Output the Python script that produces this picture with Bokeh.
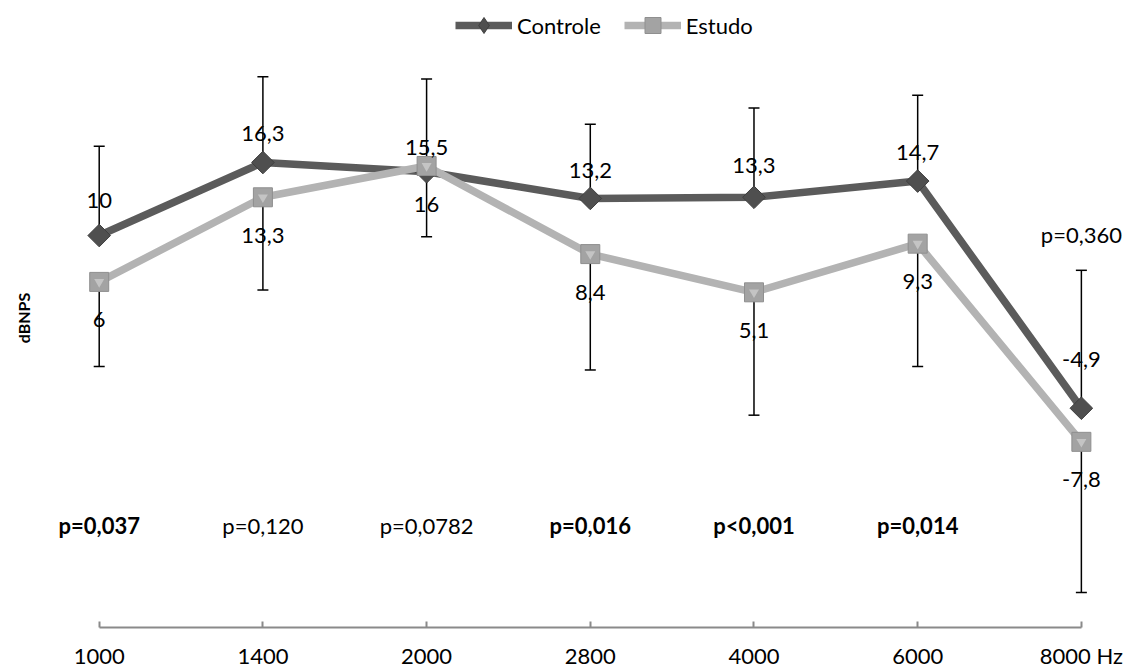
import numpy as np
from bokeh.plotting import figure
from bokeh.models import (ColumnDataSource, Range1d, FixedTicker, Whisker, TeeHead,
                          Legend, LegendItem)
from bokeh.core.properties import value
from bokeh.embed import file_html
from bokeh.resources import INLINE

# ---------------- data ----------------
freq_labels = ["1000", "1400", "2000", "2800", "4000", "6000", "8000 Hz"]
controle = [10, 16.3, 15.5, 13.2, 13.3, 14.7, -4.9]
estudo = [6, 13.3, 16, 8.4, 5.1, 9.3, -7.8]
controle_sd = [7.7, 7.4, 8.0, 6.4, 7.7, 7.4, 11.9]
estudo_sd = [7.3, 8.0, 6.1, 10.0, 10.6, 10.6, 13.0]
controle_txt = ["10", "16,3", "15,5", "13,2", "13,3", "14,7", "-4,9"]
estudo_txt = ["6", "13,3", "16", "8,4", "5,1", "9,3", "-7,8"]
p_values = ["p=0,037", "p=0,120", "p=0,0782", "p=0,016", "p<0,001", "p=0,014", "p=0,360"]
p_style = ["bold", "normal", "normal", "bold", "bold", "bold", "normal"]

# ---------------- layout constants (not data) ----------------
p_y = [-15.0] * 6 + [10.1]           # vertical placement of p-value texts
ctrl_dy = [35, 29.5, 24.5, 27.5, 32, 29, 49]   # label offsets above Controle points (px)
est_dy = 38                           # label offset below Estudo points (px)

FONT = "Lato"
x = list(range(len(freq_labels)))

p = figure(frame_width=1129, frame_height=627, output_backend="svg",
           toolbar_location=None, x_range=Range1d(-0.603, 6.294),
           y_range=Range1d(-23.82, 30.28),
           min_border_left=0, min_border_right=0, min_border_top=0, min_border_bottom=0)
p.outline_line_color = None
p.grid.visible = False
p.yaxis.visible = False
p.background_fill_color = "white"
p.border_fill_color = "white"

ax = p.xaxis[0]
ax.ticker = FixedTicker(ticks=x)
ax.major_label_overrides = {i: lab for i, lab in zip(x, freq_labels)}
ax.bounds = (0, len(x) - 1)
ax.axis_line_color = "#8a8a8a"
ax.axis_line_width = 2
ax.major_tick_line_color = "#8a8a8a"
ax.major_tick_line_width = 2
ax.major_tick_in = 6
ax.major_tick_out = 0
ax.minor_tick_line_color = None
ax.major_label_standoff = 14
ax.major_label_text_font = FONT
ax.major_label_text_font_size = "22px"
ax.major_label_text_color = "black"

src = ColumnDataSource(dict(
    x=x, ctrl=controle, est=estudo,
    ctrl_up=[v + s for v, s in zip(controle, controle_sd)],
    est_lo=[v - s for v, s in zip(estudo, estudo_sd)],
    ctrl_txt=controle_txt, est_txt=estudo_txt,
    ctrl_off=[-d for d in ctrl_dy],
))

# error bars
w1 = Whisker(source=src, base="x", lower="ctrl", upper="ctrl_up",
             line_color="black", line_width=1.5,
             upper_head=TeeHead(size=11, line_color="black", line_width=1.5),
             lower_head=None)
w2 = Whisker(source=src, base="x", lower="est_lo", upper="est",
             line_color="black", line_width=1.5,
             lower_head=TeeHead(size=11, line_color="black", line_width=1.5),
             upper_head=None)
p.add_layout(w1)
p.add_layout(w2)

CTRL_LINE = "#5b5b5b"
EST_LINE = "#b3b3b3"

l1 = p.line("x", "ctrl", source=src, line_color=CTRL_LINE, line_width=7.5, line_join="round")
# diamond marker (used for the legend symbol; hidden under the plotted rotated square)
lm1 = p.scatter("x", "ctrl", source=src, marker="diamond", size=16,
                fill_color="#4f4f4f", line_color="#3f3f3f")
m1 = p.scatter("x", "ctrl", source=src, marker="square", angle=np.pi / 4, size=16,
               fill_color="#4f4f4f", line_color="#3f3f3f", line_width=1)
l2 = p.line("x", "est", source=src, line_color=EST_LINE, line_width=7.5, line_join="round")
m2 = p.scatter("x", "est", source=src, marker="square", size=19,
               fill_color="#a3a3a3", line_color="#8f8f8f", line_width=1)
p.scatter("x", "est", source=src, marker="inverted_triangle", size=10,
          fill_color="#c8c8c8", line_color=None, fill_alpha=0.9)

# data labels
p.text("x", "ctrl", text="ctrl_txt", source=src, y_offset="ctrl_off",
       text_align="center", text_baseline="middle",
       text_font=value(FONT), text_font_size="22px", text_color="black")
p.text("x", "est", text="est_txt", source=src, y_offset=est_dy,
       text_align="center", text_baseline="middle",
       text_font=value(FONT), text_font_size="22px", text_color="black")

# p-values
psrc = ColumnDataSource(dict(x=x, y=p_y, t=p_values, s=p_style))
p.text("x", "y", text="t", source=psrc, text_font_style="s",
       text_align="center", text_baseline="middle",
       text_font=value(FONT), text_font_size="22px", text_color="black")

# y axis title
p.text(x=[-0.462], y=[2.88], text=["dBNPS"], angle=np.pi / 2,
       text_align="center", text_baseline="middle", text_font_style="bold",
       text_font=value(FONT), text_font_size="16px", text_color="black")

legend = Legend(items=[LegendItem(label="Controle", renderers=[l1, lm1]),
                       LegendItem(label="Estudo", renderers=[l2, m2])],
                orientation="horizontal", location=(455, 582),
                glyph_width=57, glyph_height=40, label_standoff=5, spacing=23,
                padding=0, margin=0, border_line_color=None,
                background_fill_alpha=0,
                label_text_font=FONT, label_text_font_size="22px",
                label_text_color="black")
p.add_layout(legend, "center")

open("out.html", "w").write(file_html(p, INLINE))
